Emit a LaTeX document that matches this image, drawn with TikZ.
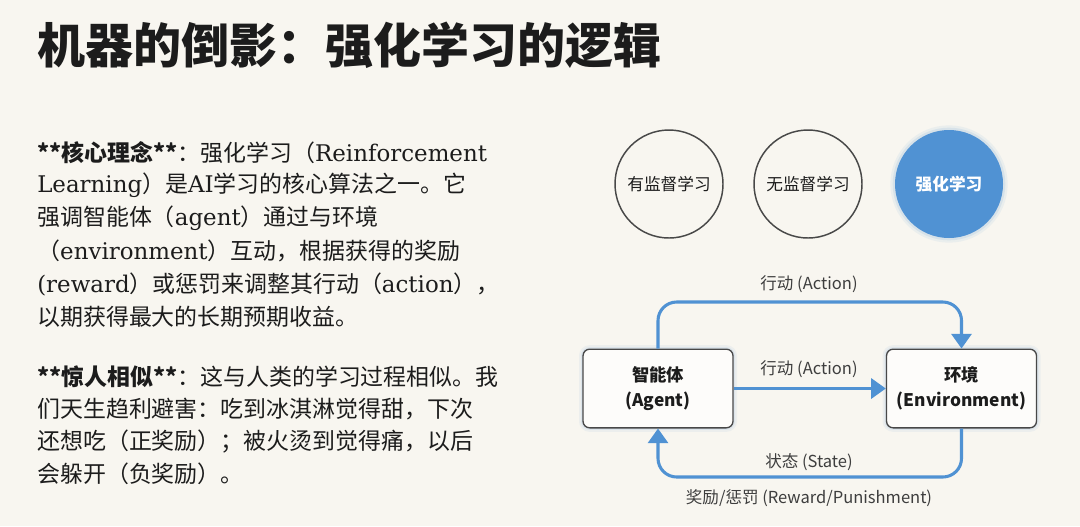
\documentclass[tikz,border=0pt]{standalone}
\usepackage{fontspec}
\setmainfont{DejaVu Serif}
\newfontfamily\cjk{Noto Sans CJK SC}
\newfontfamily\lat{DejaVu Serif}
\newcommand{\lw}[1]{{\lat #1}}
\usetikzlibrary{arrows.meta, positioning}
\definecolor{cBg}{RGB}{248,246,240}
\definecolor{cBlue}{RGB}{80,146,211}
\definecolor{cInk}{RGB}{28,28,28}
\definecolor{cLine}{RGB}{72,72,72}
\tikzset{
	headline/.style ={font=\cjk\bfseries\fontsize{36}{42}\selectfont, text=cInk, inner sep=0pt},
	bodytext/.style ={font=\cjk\fontsize{17.2}{20}\selectfont, text=cInk, inner sep=0pt, anchor=west},
	ring/.style     ={circle, draw=cLine, line width=1.1pt, fill=cBg, minimum size=81pt, inner sep=0pt, font=\cjk\fontsize{12.5}{14}\selectfont, text=cInk},
	ringsel/.style  ={circle, fill=cBlue, minimum size=81pt, inner sep=0pt, font=\cjk\bfseries\fontsize{12.5}{14}\selectfont, text=white,
		preaction={draw=cBlue, line width=7pt, opacity=0.08}, preaction={draw=cBlue, line width=3.5pt, opacity=0.12}},
	unit/.style     ={rectangle, rounded corners=5pt, draw=cLine, line width=1pt, fill=white!70!cBg, minimum width=112.5pt, minimum height=59pt, align=center, font=\cjk\bfseries\fontsize{13}{18.5}\selectfont, text=cInk,
		preaction={draw=cBlue, line width=6pt, opacity=0.07}, preaction={draw=cBlue, line width=3pt, opacity=0.10}},
	loopflow/.style ={-{Triangle[length=11pt, width=15pt]}, line width=2.3pt, draw=cBlue},
	flowlabel/.style={font=\cjk\fontsize{12.4}{14}\selectfont, text=cInk!85, inner sep=0pt},
}
\begin{document}
\begin{tikzpicture}[x=0.75pt, y=-0.75pt]
	\fill[cBg] (0,0) rectangle (1080,526);
	\node[headline, anchor=west] (title) at (37,45) {机器的倒影：强化学习的逻辑};
	% left text
	\foreach \yy/\txt in {153/{{\bfseries **核心理念**}：强化学习（\lw{Reinforcement}},
			185/{\lw{Learning}）是\lw{AI}学习的核心算法之一。它},
			218/{强调智能体（\lw{agent}）通过与环境},
			251/{（\lw{environment}）互动，根据获得的奖励},
			284/{\lw{(reward}）或惩罚来调整其行动（\lw{action}），},
			317/{以期获得最大的长期预期收益。},
			377/{{\bfseries **惊人相似**}：这与人类的学习过程相似。我},
			409/{们天生趋利避害：吃到冰淇淋觉得甜，下次},
			442/{还想吃（正奖励）；被火烫到觉得痛，以后},
			474/{会躲开（负奖励）。}}
		\node[bodytext, name=row\yy] at (37,\yy) {\txt};
	% three kinds of learning
	\node[ring] (sup) at (669,184) {有监督学习};
	\node[ring] (unsup) at (808,184) {无监督学习};
	\node[ringsel] (rl) at (949,184) {强化学习};
	% agent / environment loop
	\node[unit] (agent) at (658,388.5) {智能体\\(Agent)};
	\node[unit] (env) at (961.5,388.5) {环境\\(Environment)};
	\coordinate (topy) at (0,302);
	\coordinate (boty) at (0,477);
	\draw[loopflow, rounded corners=14pt] (agent.north) -- (agent.north |- topy) -- (env.north |- topy) -- (env.north);
	\draw[loopflow] (agent.east) -- (env.west);
	\draw[loopflow, rounded corners=14pt] (env.south) -- (env.south |- boty) -- (agent.south |- boty) -- (agent.south);
	\node[flowlabel] (acttop) at (809,284) {行动 (Action)};
	\node[flowlabel] (actmid) at (809,369) {行动 (Action)};
	\node[flowlabel] (state) at (809,462) {状态 (State)};
	\node[flowlabel] (reward) at (809,498) {奖励/惩罚 (Reward/Punishment)};
\end{tikzpicture}
\end{document}
